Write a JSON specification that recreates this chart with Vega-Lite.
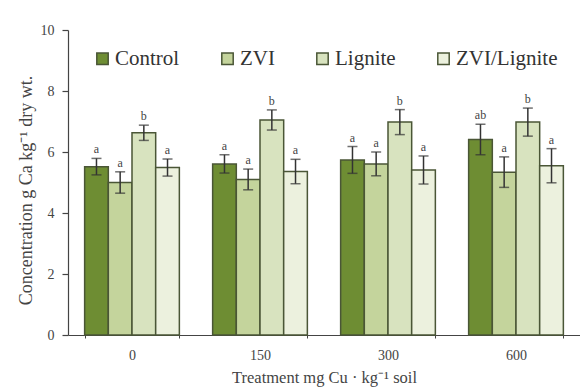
{
  "$schema": "https://vega.github.io/schema/vega-lite/v6.json",
  "width": 512,
  "height": 305,
  "autosize": "none",
  "padding": {"left": 68, "top": 30, "right": 0, "bottom": 54},
  "background": "white",
  "config": {
    "view": {"stroke": null},
    "font": "Liberation Serif",
    "axis": {"labelFont": "Liberation Serif", "titleFont": "Liberation Serif", "titleFontWeight": "normal", "labelColor": "#444", "titleColor": "#444", "domainColor": "#444", "tickColor": "#444", "grid": false},
    "legend": {"labelFont": "Liberation Serif", "labelFontSize": 21, "labelColor": "#333"}
  },
  "data": {
    "values": [
      {"t": "0", "g": "Control", "v": 5.52, "lo": 5.25, "hi": 5.79, "s": "a"},
      {"t": "0", "g": "ZVI", "v": 5.0, "lo": 4.65, "hi": 5.35, "s": "a"},
      {"t": "0", "g": "Lignite", "v": 6.63, "lo": 6.38, "hi": 6.88, "s": "b"},
      {"t": "0", "g": "ZVI/Lignite", "v": 5.49, "lo": 5.21, "hi": 5.77, "s": "a"},
      {"t": "150", "g": "Control", "v": 5.61, "lo": 5.31, "hi": 5.91, "s": "a"},
      {"t": "150", "g": "ZVI", "v": 5.1, "lo": 4.76, "hi": 5.44, "s": "a"},
      {"t": "150", "g": "Lignite", "v": 7.05, "lo": 6.72, "hi": 7.38, "s": "b"},
      {"t": "150", "g": "ZVI/Lignite", "v": 5.36, "lo": 4.96, "hi": 5.76, "s": "a"},
      {"t": "300", "g": "Control", "v": 5.74, "lo": 5.3, "hi": 6.18, "s": "a"},
      {"t": "300", "g": "ZVI", "v": 5.61, "lo": 5.22, "hi": 6.0, "s": "a"},
      {"t": "300", "g": "Lignite", "v": 6.98, "lo": 6.57, "hi": 7.39, "s": "b"},
      {"t": "300", "g": "ZVI/Lignite", "v": 5.41, "lo": 4.95, "hi": 5.87, "s": "a"},
      {"t": "600", "g": "Control", "v": 6.41, "lo": 5.91, "hi": 6.91, "s": "ab"},
      {"t": "600", "g": "ZVI", "v": 5.34, "lo": 4.84, "hi": 5.84, "s": "a"},
      {"t": "600", "g": "Lignite", "v": 6.98, "lo": 6.52, "hi": 7.44, "s": "b"},
      {"t": "600", "g": "ZVI/Lignite", "v": 5.55, "lo": 4.99, "hi": 6.11, "s": "a"}
    ]
  },
  "encoding": {
    "x": {
      "field": "t", "type": "nominal", "sort": ["0", "150", "300", "600"],
      "scale": {"paddingInner": 0.26, "paddingOuter": 0.13},
      "axis": {"title": "Treatment mg Cu · kg⁻¹ soil", "labelAngle": 0, "labelFontSize": 14, "titleFontSize": 16.5, "tickBand": "extent", "tickSize": 3, "labelPadding": 10, "titlePadding": 7, "domainWidth": 1.2}
    },
    "xOffset": {"field": "g", "type": "nominal", "sort": ["Control", "ZVI", "Lignite", "ZVI/Lignite"], "scale": {"paddingInner": 0, "paddingOuter": 0}}
  },
  "layer": [
    {
      "mark": {"type": "bar", "stroke": "#4a5636", "strokeWidth": 1.5},
      "encoding": {
        "y": {"field": "v", "type": "quantitative", "scale": {"domain": [0, 10]},
          "axis": {"title": "Concentration g Ca kg⁻¹ dry wt.", "values": [0, 0.5, 1, 1.5, 2, 2.5, 3, 3.5, 4, 4.5, 5, 5.5, 6, 6.5, 7, 7.5, 8, 8.5, 9, 9.5, 10],
            "labelExpr": "datum.value % 2 == 0 ? datum.label : ''",
            "tickSize": {"condition": {"test": "datum.value % 2 == 0", "value": 6}, "value": 3},
            "labelFontSize": 14, "titleFontSize": 18, "titleY": 160, "labelPadding": 8, "titlePadding": 5, "domainWidth": 1.2, "tickWidth": 1.2}},
        "color": {
          "field": "g", "type": "nominal", "sort": ["Control", "ZVI", "Lignite", "ZVI/Lignite"],
          "scale": {"domain": ["Control", "ZVI", "Lignite", "ZVI/Lignite"], "range": ["#6e8d33", "#c4d49c", "#d8e3bf", "#ecf1de"]},
          "legend": {"title": null, "orient": "none", "legendX": 24, "legendY": 18, "direction": "horizontal", "columns": 4, "columnPadding": 37, "symbolType": "square", "symbolSize": 130, "symbolStrokeColor": "#4a5636", "symbolStrokeWidth": 1.5, "symbolOpacity": 1, "labelFont": "Liberation Serif", "labelOffset": 2}
        }
      }
    },
    {
      "mark": {"type": "rule", "color": "#333", "strokeWidth": 1.5},
      "encoding": {
        "y": {"field": "lo", "type": "quantitative"},
        "y2": {"field": "hi"}
      }
    },
    {
      "mark": {"type": "tick", "color": "#333", "thickness": 1.5, "size": 10, "orient": "horizontal"},
      "encoding": {"y": {"field": "lo", "type": "quantitative"}}
    },
    {
      "mark": {"type": "tick", "color": "#333", "thickness": 1.5, "size": 10, "orient": "horizontal"},
      "encoding": {"y": {"field": "hi", "type": "quantitative"}}
    },
    {
      "mark": {"type": "text", "dy": -9, "fontSize": 12, "color": "#444", "font": "Liberation Serif"},
      "encoding": {
        "y": {"field": "hi", "type": "quantitative"},
        "text": {"field": "s"}
      }
    }
  ]
}
